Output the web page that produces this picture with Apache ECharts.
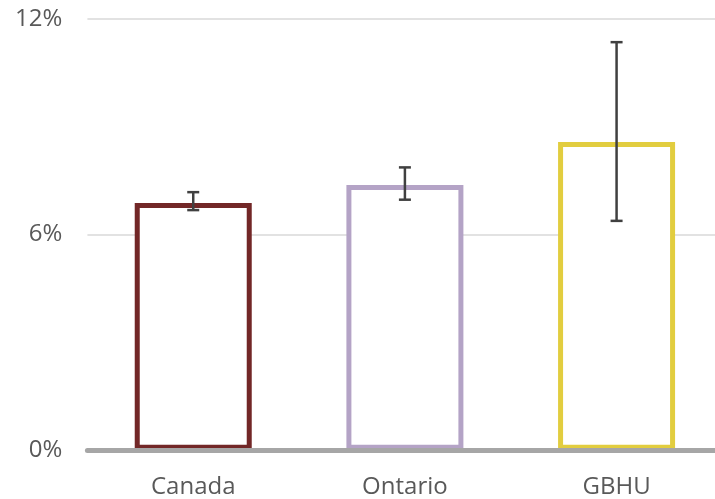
<!DOCTYPE html>
<html><head><meta charset="utf-8">
<script src="https://cdn.jsdelivr.net/npm/echarts@6/dist/echarts.min.js"></script>
<style>html,body{margin:0;padding:0;background:#fff}#c{width:715px;height:499px}</style>
</head><body><div id="c"></div>
<script>
const categories = ['Canada', 'Ontario', 'GBHU'];
const values = [6.88, 7.38, 8.58];
const lowErr = [6.68, 6.97, 6.38];
const highErr = [7.18, 7.87, 11.36];
const barColors = ['#722727', '#b4a3c6', '#e2cd3f'];
const yTicks = [0, 6, 12];

const idx = categories.map((c, i) => i);
const chart = echarts.init(document.getElementById('c'));
chart.setOption({
  animation: false,
  grid: { left: 87.4, top: 19.2, right: 0, bottom: 49.2, containLabel: false },
  xAxis: {
    type: 'value', min: -0.5, max: 2.465,
    splitLine: { show: false },
    axisLine: { show: true, onZero: false, lineStyle: { color: '#a6a6a6', width: 5 } },
    axisTick: { show: false },
    axisLabel: { customValues: idx, color: '#595959', fontSize: 24, fontFamily: 'Open Sans', margin: 25,
      formatter: v => categories[Math.round(v)] },
    z: 10
  },
  yAxis: {
    type: 'value', min: 0, max: 12, interval: 6,
    axisLine: { show: false }, axisTick: { show: false },
    splitLine: { lineStyle: { color: '#d9d9d9', width: 1.5 } },
    axisLabel: { color: '#595959', fontSize: 24, fontFamily: 'Open Sans', margin: 25,
      formatter: v => yTicks.includes(v) ? v + '%' : '' }
  },
  series: [
    {
      type: 'bar', barWidth: 117,
      data: values.map((v, i) => ({ value: [i, v], itemStyle: { color: '#fff', borderColor: barColors[i], borderWidth: 5 } })),
      z: 2
    },
    {
      type: 'custom', z: 5,
      data: idx.map(i => [i, lowErr[i], highErr[i]]),
      renderItem: function (params, api) {
        const x = api.coord([api.value(0), 0])[0];
        const lo = api.coord([api.value(0), api.value(1)])[1];
        const hi = api.coord([api.value(0), api.value(2)])[1];
        const hw = 6;
        const st = { stroke: '#404040', lineWidth: 2.5 };
        return { type: 'group', children: [
          { type: 'line', shape: { x1: x, y1: lo, x2: x, y2: hi }, style: st },
          { type: 'line', shape: { x1: x - hw, y1: lo, x2: x + hw, y2: lo }, style: st },
          { type: 'line', shape: { x1: x - hw, y1: hi, x2: x + hw, y2: hi }, style: st }
        ]};
      }
    }
  ]
});
</script></body></html>
